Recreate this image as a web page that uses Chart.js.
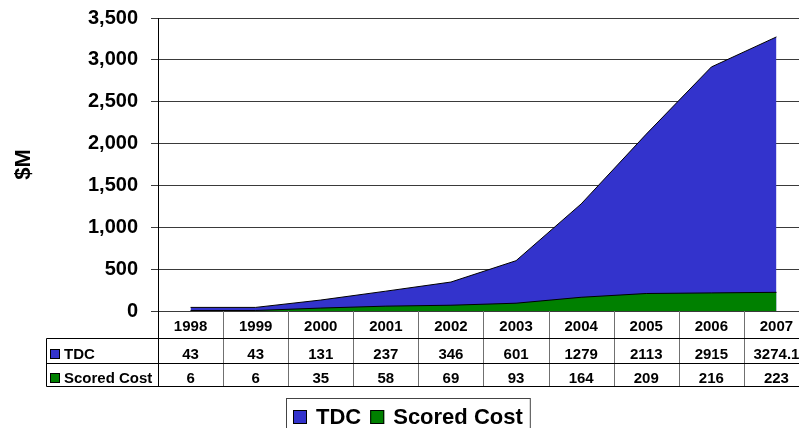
<!DOCTYPE html>
<html>
<head>
<meta charset="utf-8">
<script src="https://cdn.jsdelivr.net/npm/chart.js@4/dist/chart.umd.min.js"></script>
<style>
  html, body { margin: 0; padding: 0; overflow: hidden; background: #fff; }
  #wrap { position: relative; width: 809px; height: 428px; }
</style>
</head>
<body>
<div id="wrap"><canvas id="c"></canvas></div>
<script>
// Fiscal years shown along the category axis and in the data table header
const years = ['1998', '1999', '2000', '2001', '2002', '2003', '2004', '2005', '2006', '2007'];
// Total development cost, $M
const tdc = [43, 43, 131, 237, 346, 601, 1279, 2113, 2915, 3274.1];
// Scored cost, $M
const scoredCost = [6, 6, 35, 58, 69, 93, 164, 209, 216, 223];
// Series names and fills
const seriesNames = ['TDC', 'Scored Cost'];
const seriesColors = ['#3333CC', '#008000'];
// Value axis range
const yMin = 0, yMax = 3500, yStep = 500;

const FONT = '"Liberation Sans", Arial, sans-serif';

// Draws the data table under the plot and the boxed legend
const dataTable = {
  id: 'dataTable',
  afterDraw(chart) {
    const ctx = chart.ctx;
    const xs = chart.scales.x;
    const area = chart.chartArea;
    const half = (xs.getPixelForValue(1) - xs.getPixelForValue(0)) / 2;
    const rowTop = Math.round(area.bottom);
    const r1 = rowTop + 27, r2 = r1 + 25, r3 = r2 + 23;
    const labelLeft = 46;
    const colEdge = i => Math.round(xs.getPixelForValue(0) - half + i * 2 * half) + 0.5;
    const right = colEdge(years.length);

    ctx.save();
    ctx.lineWidth = 1;

    // column separators
    ctx.strokeStyle = '#707070';
    for (let i = 1; i <= years.length; i++) {
      const x = colEdge(i);
      ctx.beginPath(); ctx.moveTo(x, rowTop); ctx.lineTo(x, r3); ctx.stroke();
    }
    // row rules and outer edges
    ctx.strokeStyle = '#000';
    [r1, r2, r3].forEach(y => {
      ctx.beginPath(); ctx.moveTo(labelLeft + 0.5, y + 0.5); ctx.lineTo(right, y + 0.5); ctx.stroke();
    });
    ctx.beginPath(); ctx.moveTo(labelLeft + 0.5, r1 + 0.5); ctx.lineTo(labelLeft + 0.5, r3 + 0.5); ctx.stroke();
    const ax = Math.round(area.left) + 0.5;
    ctx.beginPath(); ctx.moveTo(ax, rowTop); ctx.lineTo(ax, r3 + 0.5); ctx.stroke();

    // header years and values
    ctx.fillStyle = '#000';
    ctx.textAlign = 'center';
    ctx.textBaseline = 'alphabetic';
    ctx.font = 'bold 15px ' + FONT;
    const rows = [tdc, scoredCost];
    years.forEach((yr, i) => {
      const cx = xs.getPixelForValue(i);
      ctx.fillText(yr, cx, rowTop + 20);
      ctx.fillText(String(rows[0][i]), cx, r1 + 21);
      ctx.fillText(String(rows[1][i]), cx, r2 + 20);
    });

    // series labels with colour keys
    ctx.textAlign = 'left';
    const labelBase = [r1 + 21, r2 + 20];
    seriesNames.forEach((name, k) => {
      ctx.fillStyle = seriesColors[k];
      ctx.fillRect(51, labelBase[k] - 9, 8, 8);
      ctx.strokeStyle = '#000';
      ctx.strokeRect(50.5, labelBase[k] - 9.5, 9, 9);
      ctx.fillStyle = '#000';
      ctx.fillText(name, 64, labelBase[k]);
    });

    // legend box
    ctx.font = 'bold 22px ' + FONT;
    const lgTop = 398, lgLeft = 286;
    let x = lgLeft + 7;
    const widths = seriesNames.map(n => ctx.measureText(n).width);
    const lgWidth = 7 + seriesNames.reduce((s, n, k) => s + 14 + 9 + widths[k] + 9, 0) - 2;
    ctx.strokeStyle = '#444';
    ctx.strokeRect(lgLeft + 0.5, lgTop + 0.5, lgWidth, 40);
    seriesNames.forEach((name, k) => {
      ctx.fillStyle = seriesColors[k];
      ctx.fillRect(x, 410, 14, 14);
      ctx.strokeStyle = '#000';
      ctx.strokeRect(x + 0.5, 410.5, 13, 13);
      ctx.fillStyle = '#000';
      ctx.fillText(name, x + 23, 424);
      x += 14 + 9 + widths[k] + 9;
    });
    ctx.restore();
  }
};

new Chart(document.getElementById('c'), {
  type: 'line',
  data: {
    labels: years,
    datasets: [
      {
        label: seriesNames[0], data: tdc, order: 1,
        fill: 'origin', backgroundColor: seriesColors[0],
        borderColor: '#000', borderWidth: 1, pointRadius: 0, tension: 0
      },
      {
        label: seriesNames[1], data: scoredCost, order: 0,
        fill: 'origin', backgroundColor: seriesColors[1],
        borderColor: '#000', borderWidth: 1, pointRadius: 0, tension: 0
      }
    ]
  },
  options: {
    responsive: true,
    maintainAspectRatio: false,
    animation: false,
    events: [],
    layout: { padding: { top: 18, right: 0, bottom: 117, left: 0 } },
    plugins: { legend: { display: false }, tooltip: { enabled: false } },
    scales: {
      x: { type: 'category', offset: true, display: false },
      y: {
        min: yMin, max: yMax,
        ticks: {
          stepSize: yStep, color: '#000', padding: 13,
          font: { family: FONT, size: 20, weight: 'bold' },
          callback: v => v.toLocaleString('en-US')
        },
        grid: { color: '#3a3a3a', lineWidth: 1, tickLength: 7 },
        border: { display: true, color: '#000', width: 1 },
        title: {
          display: true, text: '$M', color: '#000',
          font: { family: FONT, size: 22, weight: 'bold' },
          padding: { top: 11, bottom: 0 }
        },
        afterFit(scale) {
          scale.width = 158;
          scale.paddingTop = 0;
          scale.paddingBottom = 0;
        }
      }
    }
  },
  plugins: [dataTable]
});
</script>
</body>
</html>
